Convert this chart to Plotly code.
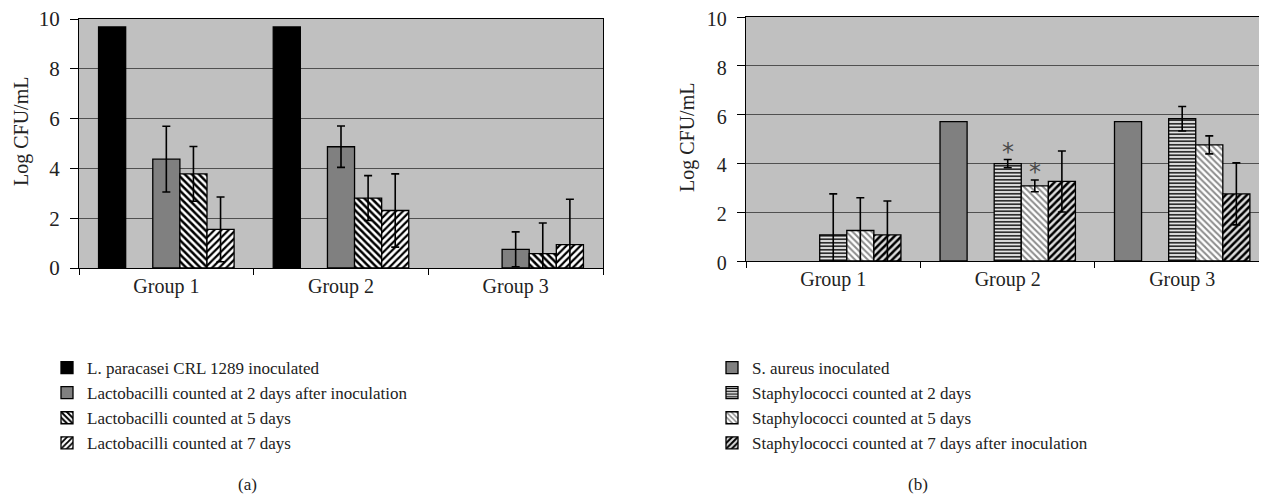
import plotly.graph_objects as go

groups = ["Group 1", "Group 2", "Group 3"]

# Panel (a)
a_names = ["L. paracasei CRL 1289 inoculated",
           "Lactobacilli counted at 2 days after inoculation",
           "Lactobacilli counted at 5 days",
           "Lactobacilli counted at 7 days"]
a_inoc = [9.68, 9.68, None]
a_d2 = [4.37, 4.87, 0.75]
a_d2_err = [1.32, 0.83, 0.70]
a_d5 = [3.78, 2.81, 0.58]
a_d5_err = [1.10, 0.90, 1.23]
a_d7 = [1.55, 2.31, 0.94]
a_d7_err = [1.30, 1.47, 1.82]

# Panel (b)
b_names = ["S. aureus inoculated",
           "Staphylococci counted at 2 days",
           "Staphylococci counted at 5 days",
           "Staphylococci counted at 7 days after inoculation"]
b_inoc = [None, 5.71, 5.71]
b_d2 = [1.07, 3.99, 5.83]
b_d2_err = [1.68, 0.17, 0.50]
b_d5 = [1.25, 3.08, 4.76]
b_d5_err = [1.34, 0.24, 0.37]
b_d7 = [1.07, 3.26, 2.75]
b_d7_err = [1.39, 1.25, 1.27]
b_star_idx = [1, 1]          # Group 2
b_star_series = ["d2", "d5"]

FONT = "Liberation Serif"
LINE = dict(color="black", width=1.3)
ERR = dict(color="black", thickness=1.6, width=4)

fig = go.Figure()

def add_bar(x, y, name, xa, ya, legend, color="#808080", pattern=None, err=None, show=True):
    marker = dict(color=color, line=LINE)
    if pattern:
        marker["pattern"] = pattern
    fig.add_trace(go.Bar(
        x=x, y=y, name=name, xaxis=xa, yaxis=ya, marker=marker,
        error_y=dict(type="data", array=err, **ERR) if err else None,
        showlegend=show, legend=legend, legendgroup=name if show else None,
    ))

# panel (a)
add_bar(groups, a_inoc, a_names[0], "x", "y", "legend", color="#000000")
add_bar(groups, [None, None, None], "gap_a", "x", "y", "legend", show=False)
add_bar(groups, a_d2, a_names[1], "x", "y", "legend", color="#808080", err=a_d2_err)
add_bar(groups, a_d5, a_names[2], "x", "y", "legend", color="white",
        pattern=dict(shape="\\", fgcolor="black", bgcolor="white", size=5, solidity=0.5, fillmode="replace"),
        err=a_d5_err)
add_bar(groups, a_d7, a_names[3], "x", "y", "legend", color="white",
        pattern=dict(shape="/", fgcolor="black", bgcolor="white", size=5, solidity=0.45, fillmode="replace"),
        err=a_d7_err)

# panel (b)
add_bar(groups, b_inoc, b_names[0], "x2", "y2", "legend2", color="#808080")
add_bar(groups, [None, None, None], "gap_b", "x2", "y2", "legend2", show=False)
add_bar(groups, b_d2, b_names[1], "x2", "y2", "legend2", color="white",
        pattern=dict(shape="-", fgcolor="black", bgcolor="#e4e4e4", size=3.5, solidity=0.4, fillmode="replace"),
        err=b_d2_err)
add_bar(groups, b_d5, b_names[2], "x2", "y2", "legend2", color="white",
        pattern=dict(shape="\\", fgcolor="#8c8c8c", bgcolor="white", size=4.5, solidity=0.45, fillmode="replace"),
        err=b_d5_err)
add_bar(groups, b_d7, b_names[3], "x2", "y2", "legend2", color="white",
        pattern=dict(shape="/", fgcolor="black", bgcolor="#dcdcdc", size=5, solidity=0.5, fillmode="replace"),
        err=b_d7_err)

# page offset of the figure (default body margin) and figure size
OFF = 8
W, H = 1259, 488
def px(x): return (x - OFF) / W
def py(y): return (H - (y - OFF)) / H

xcommon = dict(type="category", tickson="boundaries", ticks="outside", ticklen=6,
               tickcolor="black", tickwidth=1.3, showline=True, linecolor="black", linewidth=1.3,
               tickfont=dict(family=FONT, size=20, color="#222"), showgrid=False, automargin=False)
ycommon = dict(range=[0, 10], dtick=2, ticks="outside", ticklen=8, tickcolor="black", tickwidth=1.3,
               showline=True, linecolor="black", linewidth=1.3, showgrid=True,
               gridcolor="#505050", gridwidth=1.4, zeroline=False, automargin=False,
               ticklabelstandoff=6, ticklabeloverflow="allow")

fig.update_layout(
    width=W, height=H, margin=dict(l=0, r=0, t=0, b=0, autoexpand=False),
    paper_bgcolor="white", plot_bgcolor="#c0c0c0",
    barmode="group", bargap=0.224, bargroupgap=0,
    xaxis=dict(domain=[px(79), px(603)], range=[-0.5, 2.5], anchor="y", mirror=True, **xcommon),
    yaxis=dict(domain=[py(268), py(19)], anchor="x", mirror=True,
               tickfont=dict(family=FONT, size=21, color="#222"), **ycommon),
    xaxis2=dict(domain=[px(746), 1.0], range=[-0.5, 2.486], anchor="y2", mirror=True, **xcommon),
    yaxis2=dict(domain=[py(261), py(17)], anchor="x2", ticklabelshift=2,
                tickfont=dict(family=FONT, size=20, color="#222"), **ycommon),
    legend=dict(x=px(47), y=py(350), xanchor="left", yanchor="top",
                font=dict(family=FONT, size=17, color="#222"), bgcolor="rgba(0,0,0,0)",
                tracegroupgap=0, traceorder="normal"),
    legend2=dict(x=px(712), y=py(350), xanchor="left", yanchor="top",
                 font=dict(family=FONT, size=17, color="#222"), bgcolor="rgba(0,0,0,0)",
                 tracegroupgap=0, traceorder="normal"),
)

def paper_ann(text, x, y, size, angle=0):
    return dict(text=text, x=px(x), y=py(y), xref="paper", yref="paper",
                xanchor="center", yanchor="middle", textangle=angle, showarrow=False,
                font=dict(family=FONT, size=size, color="#222"))

ann = [
    paper_ann("Log CFU/mL", 22, 132, 20, -90),
    paper_ann("Log CFU/mL", 687, 138, 20, -90),
    paper_ann("(a)", 247, 484, 17),
    paper_ann("(b)", 918, 484, 17),
]

# asterisks on panel (b)
slot_w = (1 - 0.224) / 5
series = {"d2": (b_d2, b_d2_err, 2), "d5": (b_d5, b_d5_err, 3)}
for gi, sk in zip(b_star_idx, b_star_series):
    vals, errs, slot = series[sk]
    ann.append(dict(text="*", x=gi + (slot - 2) * slot_w, y=vals[gi] + errs[gi],
                    xref="x2", yref="y2", yanchor="bottom", showarrow=False, yshift=-8,
                    font=dict(family="DejaVu Sans", size=24, color="#4a4a4a")))
fig.update_layout(annotations=ann)

fig.write_html("out.html")
